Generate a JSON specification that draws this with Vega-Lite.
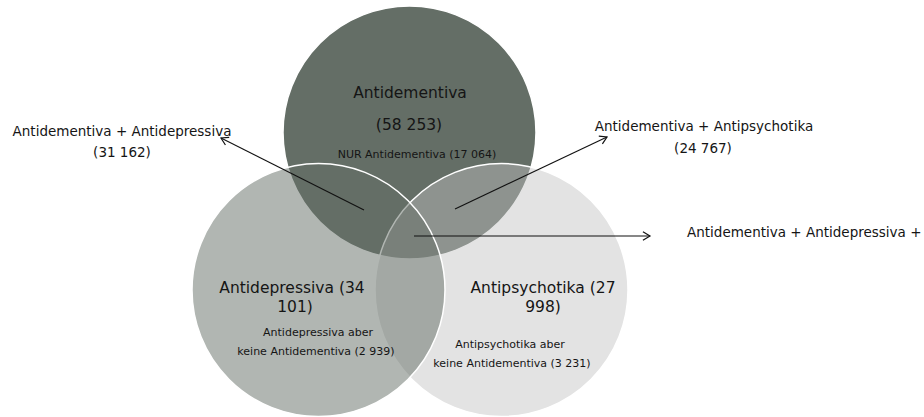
{
  "$schema": "https://vega.github.io/schema/vega-lite/v6.json",
  "width": 924,
  "height": 417,
  "autosize": "none",
  "padding": 0,
  "background": "white",
  "config": {"view": {"stroke": null}, "axis": {"disable": true}},
  "datasets": {
    "circles": [
      {"set": "Antidementiva", "cx": 409.5, "cy": 132.5},
      {"set": "Antipsychotika", "cx": 501.5, "cy": 290},
      {"set": "Antidepressiva", "cx": 318.5, "cy": 290}
    ],
    "labels": [
      {"kind": "main", "text": "Antidementiva", "lx": 410, "ly": 93},
      {"kind": "main", "text": "(58 253)", "lx": 409, "ly": 125},
      {"kind": "main", "text": "Antidepressiva (34", "lx": 292, "ly": 288},
      {"kind": "main", "text": "101)", "lx": 295, "ly": 307},
      {"kind": "main", "text": "Antipsychotika (27", "lx": 543, "ly": 288},
      {"kind": "main", "text": "998)", "lx": 543, "ly": 307},
      {"kind": "small", "text": "NUR Antidementiva (17 064)", "lx": 417, "ly": 155},
      {"kind": "small", "text": "Antidepressiva aber", "lx": 318, "ly": 333},
      {"kind": "small", "text": "keine Antidementiva (2 939)", "lx": 316, "ly": 352},
      {"kind": "small", "text": "Antipsychotika aber", "lx": 510, "ly": 345},
      {"kind": "small", "text": "keine Antidementiva (3 231)", "lx": 512, "ly": 364},
      {"kind": "callout", "text": "Antidementiva + Antidepressiva", "lx": 122, "ly": 132},
      {"kind": "callout", "text": "(31 162)", "lx": 122, "ly": 153},
      {"kind": "callout", "text": "Antidementiva + Antipsychotika", "lx": 704, "ly": 127},
      {"kind": "callout", "text": "(24 767)", "lx": 703, "ly": 149},
      {"kind": "calloutLeft", "text": "Antidementiva + Antidepressiva +", "lx": 687, "ly": 233}
    ],
    "arrows": [
      {"arrow": "AD", "x1": 364, "y1": 210, "x2": 221, "y2": 138},
      {"arrow": "AP", "x1": 455, "y1": 209, "x2": 607, "y2": 137},
      {"arrow": "ALL", "x1": 414, "y1": 236, "x2": 650, "y2": 236}
    ]
  },
  "layer": [
    {
      "data": {"name": "circles"},
      "transform": [{"filter": "datum.set === 'Antidementiva'"}],
      "mark": {"type": "point", "shape": "circle", "filled": true, "size": 64009, "fill": "#646e66", "fillOpacity": 1, "stroke": "white", "strokeWidth": 1.5},
      "encoding": {
        "x": {"field": "cx", "type": "quantitative", "scale": {"domain": [0, 924], "nice": false, "zero": false}},
        "y": {"field": "cy", "type": "quantitative", "scale": {"domain": [0, 417], "nice": false, "zero": false, "reverse": true}}
      }
    },
    {
      "data": {"name": "circles"},
      "transform": [{"filter": "datum.set === 'Antipsychotika'"}],
      "mark": {"type": "point", "shape": "circle", "filled": true, "size": 64009, "fill": "#c0c2c0", "fillOpacity": 0.45, "stroke": "white", "strokeWidth": 1.5},
      "encoding": {
        "x": {"field": "cx", "type": "quantitative"},
        "y": {"field": "cy", "type": "quantitative"}
      }
    },
    {
      "data": {"name": "circles"},
      "transform": [{"filter": "datum.set === 'Antidepressiva'"}],
      "mark": {"type": "point", "shape": "circle", "filled": true, "size": 64009, "fill": "#646e66", "fillOpacity": 0.5, "stroke": "white", "strokeWidth": 1.5},
      "encoding": {
        "x": {"field": "cx", "type": "quantitative"},
        "y": {"field": "cy", "type": "quantitative"}
      }
    },
    {
      "data": {"name": "arrows"},
      "mark": {"type": "rule", "color": "#111111", "strokeWidth": 1.1},
      "encoding": {
        "x": {"field": "x1", "type": "quantitative"},
        "y": {"field": "y1", "type": "quantitative"},
        "x2": {"field": "x2"},
        "y2": {"field": "y2"}
      }
    },
    {
      "data": {"name": "arrows"},
      "transform": [{"filter": "datum.arrow === 'AD'"}],
      "mark": {"type": "point", "shape": "M-1,-0.6L0,0L-1,0.6", "filled": false, "size": 200, "stroke": "#111111", "strokeWidth": 1.2, "angle": 206.6, "opacity": 1},
      "encoding": {
        "x": {"field": "x2", "type": "quantitative"},
        "y": {"field": "y2", "type": "quantitative"}
      }
    },
    {
      "data": {"name": "arrows"},
      "transform": [{"filter": "datum.arrow === 'AP'"}],
      "mark": {"type": "point", "shape": "M-1,-0.6L0,0L-1,0.6", "filled": false, "size": 200, "stroke": "#111111", "strokeWidth": 1.2, "angle": 334.8, "opacity": 1},
      "encoding": {
        "x": {"field": "x2", "type": "quantitative"},
        "y": {"field": "y2", "type": "quantitative"}
      }
    },
    {
      "data": {"name": "arrows"},
      "transform": [{"filter": "datum.arrow === 'ALL'"}],
      "mark": {"type": "point", "shape": "M-1,-0.6L0,0L-1,0.6", "filled": false, "size": 200, "stroke": "#111111", "strokeWidth": 1.2, "angle": 0, "opacity": 1},
      "encoding": {
        "x": {"field": "x2", "type": "quantitative"},
        "y": {"field": "y2", "type": "quantitative"}
      }
    },
    {
      "data": {"name": "labels"},
      "transform": [{"filter": "datum.kind === 'main'"}],
      "mark": {"type": "text", "font": "DejaVu Sans", "fontSize": 15.5, "color": "#151515", "align": "center", "baseline": "middle"},
      "encoding": {
        "x": {"field": "lx", "type": "quantitative"},
        "y": {"field": "ly", "type": "quantitative"},
        "text": {"field": "text"}
      }
    },
    {
      "data": {"name": "labels"},
      "transform": [{"filter": "datum.kind === 'small'"}],
      "mark": {"type": "text", "font": "DejaVu Sans", "fontSize": 11, "color": "#151515", "align": "center", "baseline": "middle"},
      "encoding": {
        "x": {"field": "lx", "type": "quantitative"},
        "y": {"field": "ly", "type": "quantitative"},
        "text": {"field": "text"}
      }
    },
    {
      "data": {"name": "labels"},
      "transform": [{"filter": "datum.kind === 'callout'"}],
      "mark": {"type": "text", "font": "DejaVu Sans", "fontSize": 13.5, "color": "#151515", "align": "center", "baseline": "middle"},
      "encoding": {
        "x": {"field": "lx", "type": "quantitative"},
        "y": {"field": "ly", "type": "quantitative"},
        "text": {"field": "text"}
      }
    },
    {
      "data": {"name": "labels"},
      "transform": [{"filter": "datum.kind === 'calloutLeft'"}],
      "mark": {"type": "text", "font": "DejaVu Sans", "fontSize": 13.5, "color": "#151515", "align": "left", "baseline": "middle"},
      "encoding": {
        "x": {"field": "lx", "type": "quantitative"},
        "y": {"field": "ly", "type": "quantitative"},
        "text": {"field": "text"}
      }
    }
  ]
}
